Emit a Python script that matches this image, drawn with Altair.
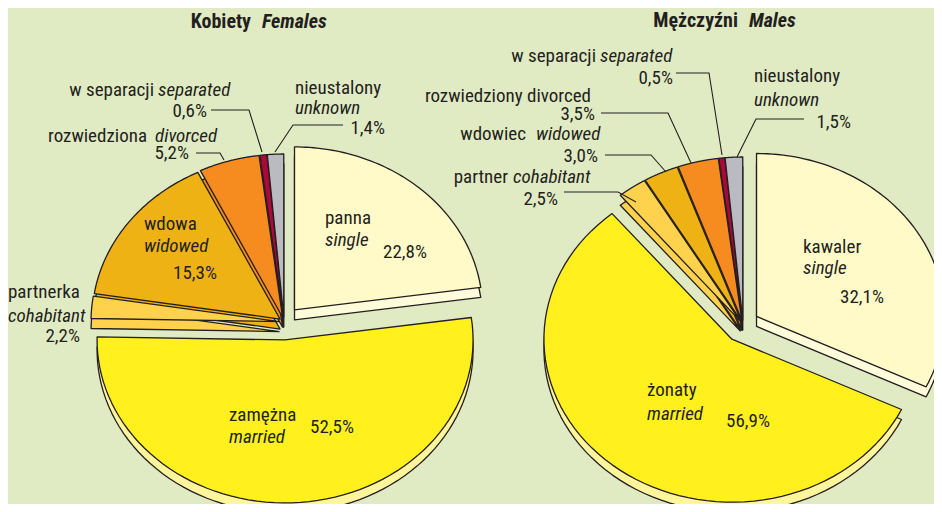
import altair as alt
import pandas as pd

# ---------------- data ----------------
categories = ["single", "married", "cohabitant", "widowed", "divorced", "separated", "unknown"]
females = [22.8, 52.5, 2.2, 15.3, 5.2, 0.6, 1.4]
males = [32.1, 56.9, 2.5, 3.0, 3.5, 0.5, 1.5]

face_colors = ["#FFFAC8", "#FFF01E", "#FFD24E", "#EFB215", "#F68B1F", "#B0073A", "#B9BBC0"]
side_colors = ["#FFFCDC", "#FFF59B", "#FFD24E", "#EFB215", "#F68B1F", "#B0073A", "#B9BBC0"]

# ---------------- layout ----------------
OFF = 8
W, H = 926, 496
RX, RY, DEPTH, N = 188, 163, 10, 72
CXF, CYF = 284 - OFF, 322 - OFF
CXM, CYM = 743 - OFF, 325 - OFF
INK = "#231F20"
BG = "#E1EBC3"
FONT = "'Liberation Sans Narrow', 'Arial Narrow', 'Roboto Condensed', 'Liberation Sans', sans-serif"

rows = []
for pie, vals in (("F", females), ("M", males)):
    for i, (c, v) in enumerate(zip(categories, vals)):
        rows.append({"pie": pie, "cat": c, "order": i, "value": v})
df = pd.DataFrame(rows)

fill_domain = categories + [c + "_side" for c in categories]
fill_range = face_colors + side_colors
fill_scale = alt.Scale(domain=fill_domain, range=fill_range)

base = (
    alt.Chart(df)
    .transform_window(cum="sum(value)", groupby=["pie"], sort=[alt.SortField("order")])
    .transform_calculate(a0="2*PI*(datum.cum - datum.value)/100")
    .transform_calculate(a1="2*PI*datum.cum/100")
    .transform_calculate(am="(datum.a0 + datum.a1)/2")
    .transform_calculate(cx=f"datum.pie == 'F' ? {CXF} : {CXM}")
    .transform_calculate(cy=f"datum.pie == 'F' ? {CYF} : {CYM}")
    .transform_calculate(d="datum.cat == 'single' ? 16 : (datum.cat == 'married' ? 18 : 5)")
    .transform_calculate(vx="datum.cx + datum.d*sin(datum.am)")
    .transform_calculate(vy="datum.cy - datum.d*cos(datum.am)")
    .transform_calculate(key="datum.pie + '-' + datum.cat")
    .transform_calculate(k=f"sequence(0, {N + 1})")
    .transform_flatten(["k"])
    .transform_calculate(t=f"datum.a0 + (datum.k - 1)*(datum.a1 - datum.a0)/{N - 1}")
    .transform_calculate(px=f"datum.k == 0 ? datum.vx : datum.vx + {RX}*sin(datum.t)")
    .transform_calculate(py=f"datum.k == 0 ? datum.vy : datum.vy - {RY}*cos(datum.t)")
)

poly = dict(filled=True, interpolate="linear-closed", stroke=INK, strokeWidth=1.3, strokeJoin="round")

side = (
    base.transform_calculate(py2=f"datum.py + {DEPTH}")
    .transform_calculate(fk="datum.cat + '_side'")
    .mark_line(**poly)
    .encode(
        x=alt.X("px:Q", scale=None, axis=None),
        y=alt.Y("py2:Q", scale=None, axis=None),
        order=alt.Order("k:Q"),
        detail="key:N",
        fill=alt.Fill("fk:N", scale=fill_scale, legend=None),
    )
)

face = (
    base.transform_calculate(fk="datum.cat")
    .mark_line(**poly)
    .encode(
        x=alt.X("px:Q", scale=None, axis=None),
        y=alt.Y("py:Q", scale=None, axis=None),
        order=alt.Order("k:Q"),
        detail="key:N",
        fill=alt.Fill("fk:N", scale=fill_scale, legend=None),
    )
)

# ---------------- leader lines (layout) ----------------
leaders = {
    "F-sep": [(211, 110), (249, 110), (262, 152)],
    "F-unk": [(343, 125), (293, 125), (275, 152)],
    "F-div": [(196, 153), (220, 153), (224, 160)],
    "M-sep": [(676, 73), (709, 73), (722, 155)],
    "M-unk": [(804, 119), (756, 119), (737, 157)],
    "M-div": [(601, 113), (668, 113), (691, 163)],
    "M-wid": [(605, 155), (651, 155), (666, 172)],
    "M-coh": [(564, 192), (618, 192), (636, 202)],
}
lrows = []
for lid, pts in leaders.items():
    for j, (x, y) in enumerate(pts):
        lrows.append({"id": lid, "j": j, "x": x - OFF, "y": y - OFF})
ldf = pd.DataFrame(lrows)
leader_layer = alt.Chart(ldf).mark_line(stroke=INK, strokeWidth=1.1).encode(
    x=alt.X("x:Q", scale=None, axis=None),
    y=alt.Y("y:Q", scale=None, axis=None),
    detail="id:N",
    order="j:Q",
)

# ---------------- labels (layout) ----------------
# (text, x, baseline y, align, style)  style: n normal, i italic, b bold, bi bold italic
labels = [
    ("Kobiety", 251, 28, "right", "b"),
    ("Females", 262, 28, "left", "bi"),
    ("w separacji", 154, 96, "right", "n"),
    ("separated", 158, 96, "left", "i"),
    ("0,6%", 207, 117, "right", "n"),
    ("nieustalony", 295, 94, "left", "n"),
    ("unknown", 295, 114, "left", "i"),
    ("1,4%", 385, 134, "right", "n"),
    ("rozwiedziona", 147, 142, "right", "n"),
    ("divorced", 155, 142, "left", "i"),
    ("5,2%", 189, 159, "right", "n"),
    ("wdowa", 144, 230, "left", "n"),
    ("widowed", 144, 252, "left", "i"),
    ("15,3%", 173, 279, "left", "n"),
    ("panna", 325, 224, "left", "n"),
    ("single", 325, 246, "left", "i"),
    ("22,8%", 427, 258, "right", "n"),
    ("partnerka", 8, 298, "left", "n"),
    ("cohabitant", 8, 322, "left", "i"),
    ("2,2%", 80, 342, "right", "n"),
    ("zamężna", 229, 421, "left", "n"),
    ("married", 229, 443, "left", "i"),
    ("52,5%", 310, 433, "left", "n"),
    ("Mężczyźni", 738, 27, "right", "b"),
    ("Males", 749, 27, "left", "bi"),
    ("w separacji", 596, 62, "right", "n"),
    ("separated", 600, 62, "left", "i"),
    ("0,5%", 673, 84, "right", "n"),
    ("nieustalony", 754, 82, "left", "n"),
    ("unknown", 754, 106, "left", "i"),
    ("1,5%", 851, 128, "right", "n"),
    ("rozwiedziony divorced", 591, 102, "right", "n"),
    ("3,5%", 595, 120, "right", "n"),
    ("wdowiec", 526, 140, "right", "n"),
    ("widowed", 536, 140, "left", "i"),
    ("3,0%", 598, 162, "right", "n"),
    ("partner", 508, 183, "right", "n"),
    ("cohabitant", 513, 183, "left", "i"),
    ("2,5%", 558, 205, "right", "n"),
    ("kawaler", 803, 253, "left", "n"),
    ("single", 803, 274, "left", "i"),
    ("32,1%", 884, 303, "right", "n"),
    ("żonaty", 647, 396, "left", "n"),
    ("married", 647, 420, "left", "i"),
    ("56,9%", 726, 427, "left", "n"),
]
tdf = pd.DataFrame(labels, columns=["text", "x", "y", "align", "style"])
tdf["x"] = tdf["x"] - OFF
tdf["y"] = tdf["y"] - OFF

text_layers = []
for (align, style), g in tdf.groupby(["align", "style"]):
    bold = style in ("b", "bi")
    ital = style in ("i", "bi")
    text_layers.append(
        alt.Chart(g.reset_index(drop=True)).mark_text(
            align=align,
            baseline="alphabetic",
            font=FONT,
            fontSize=20 if bold else 19,
            fontWeight="bold" if bold else "normal",
            fontStyle="italic" if ital else "normal",
            color=INK,
        ).encode(
            x=alt.X("x:Q", scale=None, axis=None),
            y=alt.Y("y:Q", scale=None, axis=None),
            text="text:N",
        )
    )

chart = (
    alt.layer(side, face, leader_layer, *text_layers)
    .properties(width=W, height=H, background=BG, padding=0, autosize="none")
    .configure_view(stroke=None)
)

chart.save("out.html", embed_options={"renderer": "svg", "actions": False})
